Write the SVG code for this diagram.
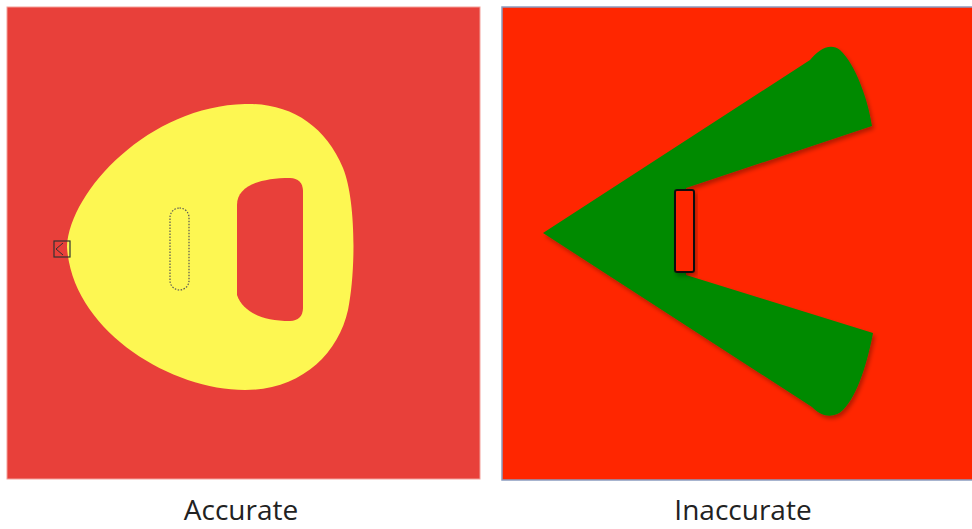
<svg xmlns="http://www.w3.org/2000/svg" width="972" height="529" viewBox="0 0 972 529">
<style>
.lbl{font-family:"Open Sans","Liberation Sans",sans-serif;font-size:28px;fill:#222;text-anchor:middle}
</style>
<defs>
<filter id="sh" x="-10%" y="-10%" width="130%" height="130%">
<feDropShadow dx="2" dy="3" stdDeviation="2" flood-color="#000" flood-opacity="0.3"/>
</filter>
</defs>
<rect width="972" height="529" fill="#fff"/>
<g id="accurate">
<rect x="7" y="7" width="473" height="472" fill="#E8403A" stroke="#F3A09A" stroke-width="1"/>
<path d="M67,247 C70,190 150,106 245,104 C290,103 325,125 343,168 C356,200 356,270 348,310 C338,355 300,390 245,390 C170,390 72,330 67,247 Z" fill="#FDF752"/>
<path d="M237,205 C237,186 260,178 290,178 C298,178 303,183 303,191 L303,308 C303,316 298,321 290,321 C262,321 243,312 237,295 Z" fill="#E8403A"/>
<rect x="170" y="208" width="19" height="82" rx="9.5" fill="none" stroke="#555" stroke-width="1.2" stroke-dasharray="1.5,1.5"/>
<rect x="54" y="241" width="16" height="16" fill="none" stroke="#333" stroke-width="1.2"/>
<polyline points="63,243 56,249 63,255" fill="none" stroke="#333" stroke-width="1"/>
</g>
<g id="inaccurate">
<rect x="502" y="7" width="475" height="473" fill="#FF2600" stroke="#8A9CC0" stroke-width="1.5"/>
<path d="M543,233 L810,60 C818,50 830,42 840,50 C856,65 868,100 872,126 L686,188 L686,275 L873,333 C868,360 858,395 843,410 C835,418 822,418 812,407 Z" fill="#008A00" filter="url(#sh)"/>
<rect x="675" y="190" width="19" height="82" rx="2" fill="#FF2600" stroke="#111" stroke-width="2" filter="url(#sh)"/>
</g>
<text class="lbl" x="241" y="520">Accurate</text>
<text class="lbl" x="743" y="520">Inaccurate</text>
</svg>
